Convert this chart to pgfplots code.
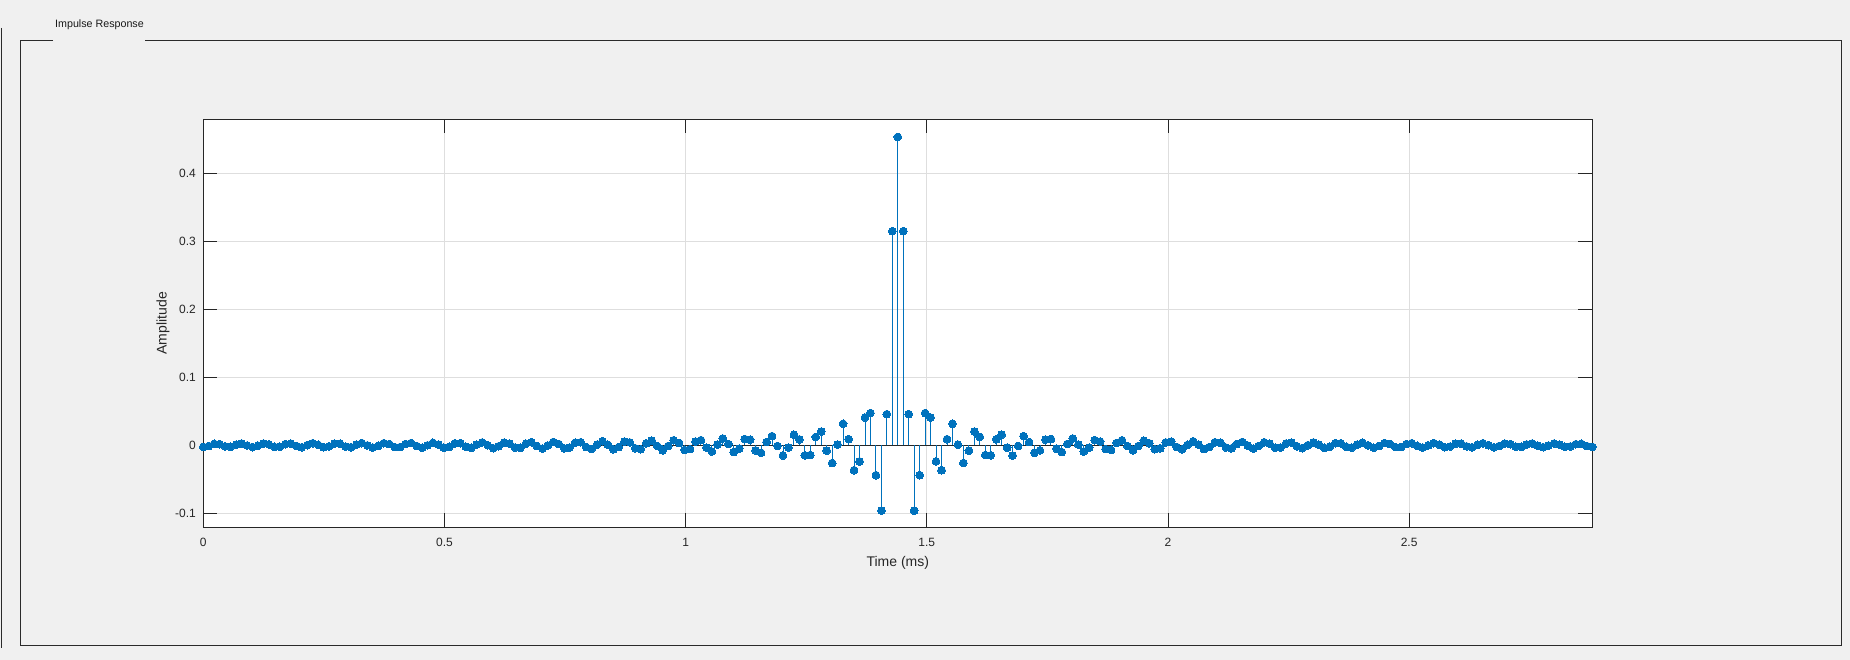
\documentclass[border=0pt]{standalone}
\usepackage{fontspec}
\setmainfont{Liberation Sans}
\usepackage{pgfplots}
\usepackage{pgfplotstable}
\pgfplotsset{compat=1.18}
\definecolor{bgcol}{HTML}{F0F0F0}
\definecolor{axcol}{HTML}{262626}
\definecolor{gridcol}{HTML}{DEDEDE}
\definecolor{mblue}{HTML}{0072BD}
\definecolor{framecol}{HTML}{2A2A2A}

\pgfplotstableread{
k y
0 -0.0024
1 -0.0011
2 0.0021
3 0.0017
4 -0.0016
5 -0.0022
6 0.0010
7 0.0026
8 -0.0003
9 -0.0027
10 -0.0005
11 0.0026
12 0.0013
13 -0.0023
14 -0.0020
15 0.0017
16 0.0025
17 -0.0010
18 -0.0029
19 0.0002
20 0.0030
21 0.0007
22 -0.0028
23 -0.0015
24 0.0024
25 0.0023
26 -0.0018
27 -0.0028
28 0.0010
29 0.0032
30 -0.0001
31 -0.0033
32 -0.0009
33 0.0031
34 0.0018
35 -0.0026
36 -0.0026
37 0.0019
38 0.0033
39 -0.0010
40 -0.0036
41 0.0000
42 0.0037
43 0.0011
44 -0.0035
45 -0.0022
46 0.0029
47 0.0031
48 -0.0021
49 -0.0038
50 0.0010
51 0.0042
52 0.0002
53 -0.0042
54 -0.0014
55 0.0039
56 0.0026
57 -0.0033
58 -0.0037
59 0.0023
60 0.0045
61 -0.0010
62 -0.0049
63 -0.0004
64 0.0049
65 0.0019
66 -0.0045
67 -0.0033
68 0.0037
69 0.0045
70 -0.0025
71 -0.0054
72 0.0010
73 0.0059
74 0.0007
75 -0.0059
76 -0.0025
77 0.0054
78 0.0042
79 -0.0044
80 -0.0057
81 0.0029
82 0.0068
83 -0.0010
84 -0.0074
85 -0.0011
86 0.0074
87 0.0034
88 -0.0068
89 -0.0056
90 0.0055
91 0.0076
92 -0.0035
93 -0.0091
94 0.0010
95 0.0099
96 0.0019
97 -0.0100
98 -0.0050
99 0.0092
100 0.0082
101 -0.0075
102 -0.0111
103 0.0047
104 0.0135
105 -0.0010
106 -0.0151
107 -0.0035
108 0.0156
109 0.0087
110 -0.0148
111 -0.0143
112 0.0123
113 0.0202
114 -0.0079
115 -0.0261
116 0.0010
117 0.0316
118 0.0090
119 -0.0366
120 -0.0237
121 0.0408
122 0.0474
123 -0.0439
124 -0.0961
125 0.0458
126 0.3149
127 0.4535
128 0.3149
129 0.0458
130 -0.0961
131 -0.0439
132 0.0474
133 0.0408
134 -0.0237
135 -0.0366
136 0.0090
137 0.0316
138 0.0010
139 -0.0261
140 -0.0079
141 0.0202
142 0.0123
143 -0.0143
144 -0.0148
145 0.0087
146 0.0156
147 -0.0035
148 -0.0151
149 -0.0010
150 0.0135
151 0.0047
152 -0.0111
153 -0.0075
154 0.0082
155 0.0092
156 -0.0050
157 -0.0100
158 0.0019
159 0.0099
160 0.0010
161 -0.0091
162 -0.0035
163 0.0076
164 0.0055
165 -0.0056
166 -0.0068
167 0.0034
168 0.0074
169 -0.0011
170 -0.0074
171 -0.0010
172 0.0068
173 0.0029
174 -0.0057
175 -0.0044
176 0.0042
177 0.0054
178 -0.0025
179 -0.0059
180 0.0007
181 0.0059
182 0.0010
183 -0.0054
184 -0.0025
185 0.0045
186 0.0037
187 -0.0033
188 -0.0045
189 0.0019
190 0.0049
191 -0.0004
192 -0.0049
193 -0.0010
194 0.0045
195 0.0023
196 -0.0037
197 -0.0033
198 0.0026
199 0.0039
200 -0.0014
201 -0.0042
202 0.0002
203 0.0042
204 0.0010
205 -0.0038
206 -0.0021
207 0.0031
208 0.0029
209 -0.0022
210 -0.0035
211 0.0011
212 0.0037
213 0.0000
214 -0.0036
215 -0.0010
216 0.0033
217 0.0019
218 -0.0026
219 -0.0026
220 0.0018
221 0.0031
222 -0.0009
223 -0.0033
224 -0.0001
225 0.0032
226 0.0010
227 -0.0028
228 -0.0018
229 0.0023
230 0.0024
231 -0.0015
232 -0.0028
233 0.0007
234 0.0030
235 0.0002
236 -0.0029
237 -0.0010
238 0.0025
239 0.0017
240 -0.0020
241 -0.0023
242 0.0013
243 0.0026
244 -0.0005
245 -0.0027
246 -0.0003
247 0.0026
248 0.0010
249 -0.0022
250 -0.0016
251 0.0017
252 0.0021
253 -0.0011
254 -0.0024
}\imp

\begin{document}
\begin{tikzpicture}[x=1pt,y=1pt]
\fill[bgcol] (0,0) rectangle (1850,660);
% outer left line
\draw[framecol, line width=1pt] (1.5,632) -- (1.5,12);
% panel frame with title gap
\draw[framecol, line width=1pt] (53,619.7) -- (20.7,619.7) -- (20.7,14.7) -- (1841.7,14.7) -- (1841.7,619.7) -- (145,619.7);
\node[anchor=west, inner sep=0pt, font=\fontsize{10.7}{12}\selectfont, text=black!90] at (55,635.7) {Impulse Response};
\begin{axis}[
  at={(203.3pt,132.7pt)}, anchor=south west,
  scale only axis, width=1389pt, height=408pt,
  xmin=0, xmax=254, ymin=-0.1206, ymax=0.4794,
  axis background/.style={fill=white},
  axis line style={axcol, line width=0.8pt},
  tick style={axcol, line width=0.8pt},
  tick align=inside, major tick length=13.9pt,
  xtick={0,44.1,88.2,132.3,176.4,220.5},
  xticklabels={0,0.5,1,1.5,2,2.5},
  ytick={-0.1,0,0.1,0.2,0.3,0.4},
  yticklabels={-0.1,0,0.1,0.2,0.3,0.4},
  grid=major,
  major grid style={gridcol, line width=0.8pt},
  ticklabel style={font=\fontsize{12}{14}\selectfont, text=axcol},
  xticklabel style={anchor=center, yshift=-15.4pt},
  yticklabel style={anchor=east, inner sep=0pt, xshift=-7.3pt},
  xlabel={Time (ms)}, ylabel={Amplitude},
  label style={font=\fontsize{14}{16}\selectfont, text=axcol},
  xlabel style={at={(axis description cs:0.5,0)}, anchor=center, yshift=-35.7pt},
  ylabel style={at={(axis description cs:-0.02901,0.5)}, anchor=center},
  clip=false,
]
\addplot[axcol, line width=0.9pt, forget plot] coordinates {(0,0) (254,0)};
\addplot[ycomb, mblue, line width=0.9pt, mark=*, mark size=3.9pt, mark options={fill=mblue, draw=mblue, line width=0pt}] table[x=k, y=y] {\imp};
\end{axis}
\end{tikzpicture}
\end{document}
